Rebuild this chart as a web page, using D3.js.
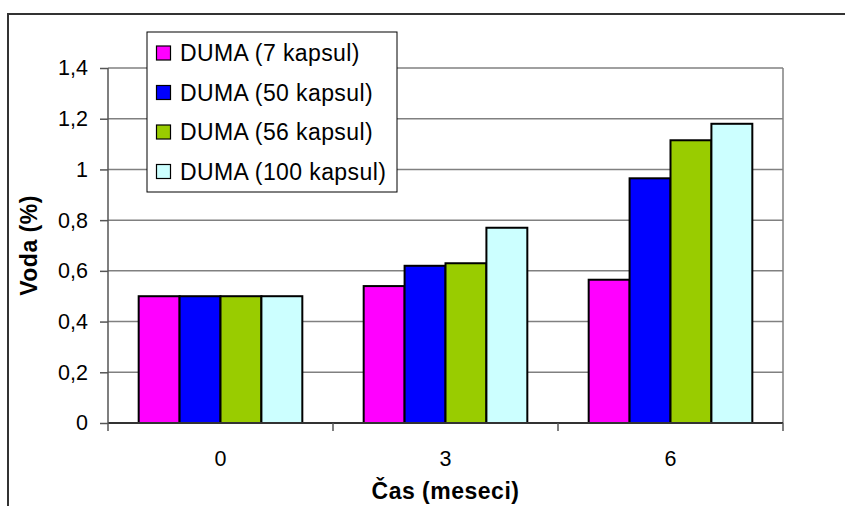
<!DOCTYPE html>
<html>
<head>
<meta charset="utf-8">
<script src="https://cdn.jsdelivr.net/npm/d3@7"></script>
<style>
    body { margin: 0; background: #fff; }
    text { font-family: Arial, "Liberation Sans", sans-serif; }
</style>
</head>
<body>
<div id="chart"></div>
<script>
let months = ['0', '3', '6'];
let seriesNames = ['DUMA (7 kapsul)', 'DUMA (50 kapsul)', 'DUMA (56 kapsul)', 'DUMA (100 kapsul)'];
let seriesColors = ['#ff00ff', '#0000ff', '#99cc00', '#ccffff'];
let dumaValues = [
    [0.50, 0.54, 0.565],
    [0.50, 0.62, 0.965],
    [0.50, 0.63, 1.115],
    [0.50, 0.77, 1.18]
];
let yTicks = [0, 0.2, 0.4, 0.6, 0.8, 1, 1.2, 1.4];

let W = 845, H = 506;
let margin = { "top": 68, "bottom": 83, "right": 62, "left": 108 };
let width = W - margin.left - margin.right;
let height = H - margin.top - margin.bottom;

let svg = d3.select('#chart')
    .append('svg')
    .attr('width', W)
    .attr('height', H);

// outer frame (clipped at right and bottom like the original)
svg.append('rect')
    .attr('x', 8).attr('y', 14)
    .attr('width', W).attr('height', H)
    .attr('fill', 'none')
    .attr('stroke', '#333')
    .attr('stroke-width', 2);

let g = svg.append('g')
    .attr('transform', 'translate(' + margin.left + ',' + margin.top + ')');

let xScale = d3.scaleBand()
    .domain(months)
    .range([0, width])
    .paddingInner(0)
    .paddingOuter(0);
let xInner = d3.scaleBand()
    .domain(d3.range(seriesNames.length))
    .range([xScale.bandwidth() * 0.75 / 5.5, xScale.bandwidth() * 4.75 / 5.5]);
let yScale = d3.scaleLinear()
    .domain([0, 1.4])
    .range([height, 0]);

// y ticks and labels
let yAxis = g.append('g')
    .attr('class', 'y_axis')
    .call(d3.axisLeft(yScale)
        .tickValues(yTicks)
        .tickSize(8)
        .tickFormat(function (d) { return String(d).replace('.', ','); }));
yAxis.select('.domain').remove();
yAxis.selectAll('.tick line').attr('stroke', '#555').attr('stroke-width', 1.5);
yAxis.selectAll('.tick text')
    .attr('x', -20)
    .attr('font-size', 21.5)
    .attr('fill', '#000');

// grid lines
g.append('g')
    .selectAll('line')
    .data(yTicks.filter(function (d) { return d > 0; }))
    .enter()
    .append('line')
    .attr('x1', 0).attr('x2', width)
    .attr('y1', function (d) { return yScale(d); })
    .attr('y2', function (d) { return yScale(d); })
    .attr('stroke', '#808080')
    .attr('stroke-width', 1.5);

// plot area right border
g.append('line')
    .attr('x1', width).attr('x2', width)
    .attr('y1', 0).attr('y2', height)
    .attr('stroke', '#808080')
    .attr('stroke-width', 1.5);

// bars
let groups = g.selectAll('.series')
    .data(dumaValues)
    .enter()
    .append('g')
    .attr('class', 'series')
    .attr('fill', function (d, i) { return seriesColors[i]; });
groups.each(function (vals, si) {
    d3.select(this).selectAll('rect')
        .data(vals)
        .enter()
        .append('rect')
        .attr('x', function (d, ci) { return xScale(months[ci]) + xInner(si); })
        .attr('y', function (d) { return yScale(d); })
        .attr('width', xInner.bandwidth())
        .attr('height', function (d) { return height - yScale(d); })
        .attr('stroke', '#000')
        .attr('stroke-width', 2);
});

// x axis
let xAxis = g.append('g')
    .attr('class', 'x_axis')
    .attr('transform', 'translate(0,' + height + ')')
    .call(d3.axisBottom(xScale).tickSize(0).tickPadding(28));
xAxis.select('.domain').remove();
xAxis.selectAll('.tick text')
    .attr('font-size', 21.5)
    .attr('fill', '#000');
g.append('line')
    .attr('x1', 0).attr('x2', width)
    .attr('y1', height).attr('y2', height)
    .attr('stroke', '#333').attr('stroke-width', 2);
g.append('line')
    .attr('x1', 0).attr('x2', 0)
    .attr('y1', 0).attr('y2', height)
    .attr('stroke', '#555').attr('stroke-width', 1.5);
g.append('g')
    .selectAll('line')
    .data(d3.range(months.length + 1))
    .enter()
    .append('line')
    .attr('x1', function (d) { return d * xScale.step(); })
    .attr('x2', function (d) { return d * xScale.step(); })
    .attr('y1', height).attr('y2', height + 8)
    .attr('stroke', '#555').attr('stroke-width', 1.5);

// axis titles
svg.append('text')
    .attr('transform', 'translate(37,' + (margin.top + height / 2) + ') rotate(-90)')
    .attr('text-anchor', 'middle')
    .attr('font-size', 23)
    .attr('font-weight', 'bold')
    .style('letter-spacing', '0.5px')
    .text('Voda (%)');
svg.append('text')
    .attr('x', margin.left + width / 2)
    .attr('y', 499)
    .attr('text-anchor', 'middle')
    .attr('font-size', 23)
    .attr('font-weight', 'bold')
    .style('letter-spacing', '0.5px')
    .text('Čas (meseci)');

// legend
let legend = svg.append('g')
    .attr('transform', 'translate(147,32)');
legend.append('rect')
    .attr('width', 250).attr('height', 160)
    .attr('fill', '#fff')
    .attr('stroke', '#000')
    .attr('stroke-width', 1);
let items = legend.selectAll('.item')
    .data(seriesNames)
    .enter()
    .append('g')
    .attr('class', 'item')
    .attr('transform', function (d, i) { return 'translate(0,' + (21 + i * 39.5) + ')'; });
items.append('rect')
    .attr('x', 9.5).attr('y', -7)
    .attr('width', 14).attr('height', 14)
    .attr('fill', function (d, i) { return seriesColors[i]; })
    .attr('stroke', '#000')
    .attr('stroke-width', 1.2);
items.append('text')
    .attr('x', 33)
    .attr('dy', '0.36em')
    .attr('font-size', 23)
    .style('letter-spacing', '0.4px')
    .text(function (d) { return d; });
</script>
</body>
</html>
